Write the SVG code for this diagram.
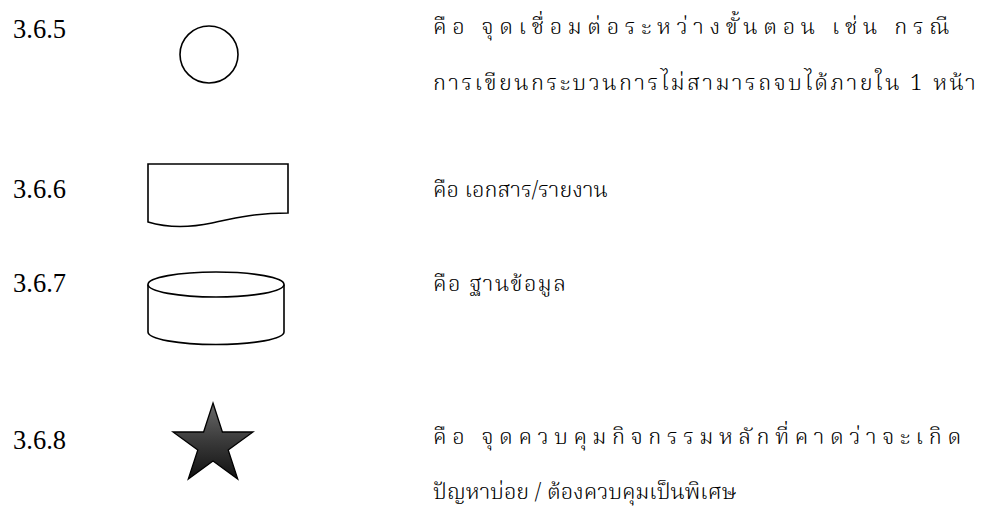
<svg xmlns="http://www.w3.org/2000/svg" width="989" height="531" viewBox="0 0 989 531">
<defs>
<style>
.num{font-family:"Liberation Serif","Times New Roman",serif;font-size:26.5px;fill:#000}
.th{font-family:"Noto Serif Thai","Noto Sans Thai","Liberation Serif",serif;font-size:22px;font-weight:300;fill:#000}
.shape{fill:#fff;stroke:#000;stroke-width:1.6}
</style>
<linearGradient id="starGrad" x1="0" y1="0" x2="0" y2="1">
<stop offset="0" stop-color="#6a6a6a"/>
<stop offset="0.5" stop-color="#3a3a3a"/>
<stop offset="1" stop-color="#111"/>
</linearGradient>
</defs>
<rect width="989" height="531" fill="#fff"/>
<g id="item-365">
<text class="num" x="13" y="38">3.6.5</text>
<ellipse class="shape" cx="209" cy="54.5" rx="29" ry="28.5"/>
<text class="th" x="433" y="34" style="letter-spacing:5.65px">คือ จุดเชื่อมต่อระหว่างขั้นตอน เช่น กรณี</text>
<text class="th" x="433" y="90" style="letter-spacing:2.5px">การเขียนกระบวนการไม่สามารถจบได้ภายใน 1 หน้า</text>
</g>
<g id="item-366">
<text class="num" x="13" y="198">3.6.6</text>
<path class="shape" d="M148,164 H288 V213 C255,213 235,218 212,223 C188,228 168,228 148,222 Z"/>
<text class="th" x="433" y="197">คือ เอกสาร/รายงาน</text>
</g>
<g id="item-367">
<text class="num" x="13" y="292">3.6.7</text>
<path class="shape" d="M148,284.5 V332 A68,12.5 0 0 0 284,332 V284.5"/>
<ellipse class="shape" cx="216" cy="284.5" rx="68" ry="12.5"/>
<text class="th" x="433" y="291" style="letter-spacing:1.5px">คือ ฐานข้อมูล</text>
</g>
<g id="item-368">
<text class="num" x="13" y="449">3.6.8</text>
<polygon points="213,403 222.4,432 253,432 228.2,450 237.7,479 213,461 188.3,479 197.8,450 173,432 203.6,432" fill="url(#starGrad)" stroke="#000" stroke-width="1.3" stroke-linejoin="miter"/>
<text class="th" x="433" y="444" style="letter-spacing:5.6px">คือ จุดควบคุมกิจกรรมหลักที่คาดว่าจะเกิด</text>
<text class="th" x="433" y="499">ปัญหาบ่อย / ต้องควบคุมเป็นพิเศษ</text>
</g>
<g id="connectors"/>
</svg>
